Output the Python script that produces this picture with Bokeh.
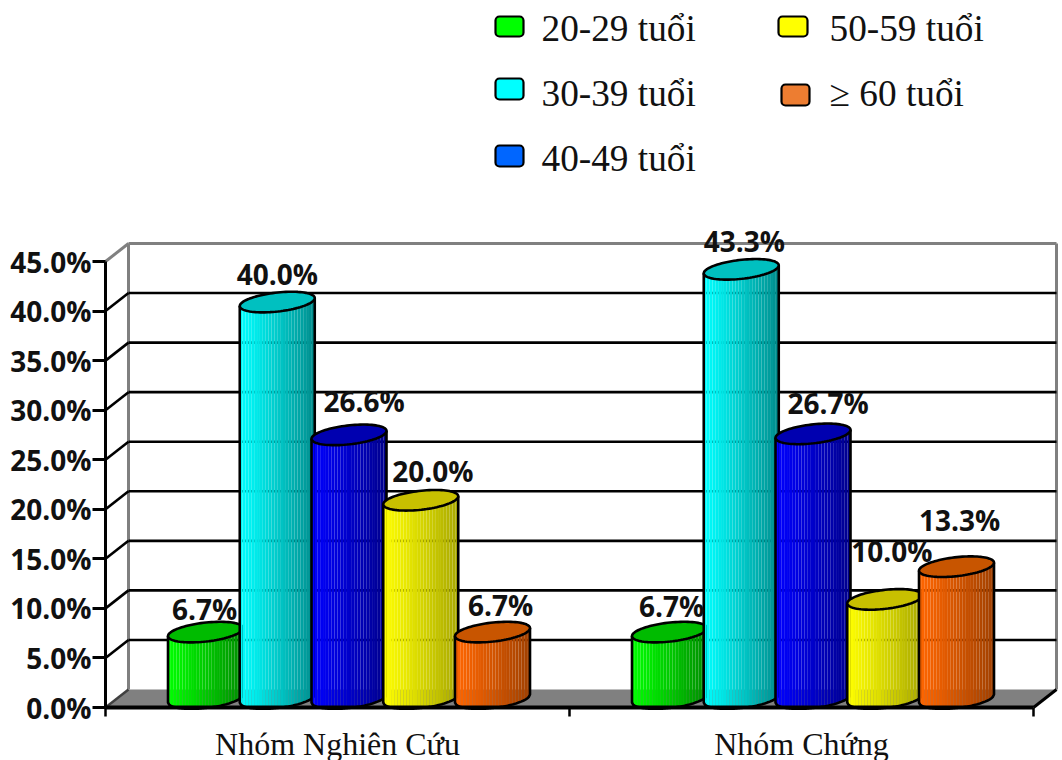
import numpy as np
from bokeh.core.properties import value
from bokeh.embed import file_html
from bokeh.models import FixedTicker, LinearAxis, Range1d
from bokeh.plotting import figure
from bokeh.resources import INLINE

# Chart data
groups = ["Nhóm Nghiên Cứu", "Nhóm Chứng"]
age_labels = ["20-29 tuổi", "30-39 tuổi", "40-49 tuổi", "50-59 tuổi", "≥ 60 tuổi"]
study_group = [6.7, 40.0, 26.6, 20.0, 6.7]
control_group = [6.7, 43.3, 26.7, 10.0, 13.3]
percent_ticks = [0, 5, 10, 15, 20, 25, 30, 35, 40, 45]
percent_labels = ["0.0%", "5.0%", "10.0%", "15.0%", "20.0%", "25.0%", "30.0%", "35.0%", "40.0%", "45.0%"]

# Colours per series: bright side, shaded side, cylinder cap, legend swatch
bright = ["#00FF00", "#00FFFF", "#0000FF", "#FFFF00", "#FF6600"]
shaded = ["#008C00", "#008C8C", "#00008C", "#A8A800", "#A04000"]
caps = ["#00BB00", "#00C0C0", "#0000B0", "#C8C000", "#C85500"]
swatches = ["#00FF00", "#00FFFF", "#0066FF", "#FFFF00", "#ED7D31"]

# Page geometry: scale of the axes in pixels
W, H = 1062, 760
X0, Y0 = 105, 707
PX_PER_GROUP = 464.0
PX_PER_PCT = (707 - 261) / 45.0
DEPTH_X, DEPTH_Y = 23, 18

def dx(px):
    return px / PX_PER_GROUP

def dy(px):
    return px / PX_PER_PCT

def page_x(px):
    return (px - X0) / PX_PER_GROUP

def page_y(px):
    return (Y0 - px) / PX_PER_PCT

p = figure(
    width=W, height=H, output_backend="svg", toolbar_location=None,
    x_range=Range1d(page_x(0), page_x(W)), y_range=Range1d(page_y(H), page_y(0)),
    x_axis_location=None, y_axis_location=None,
    min_border=0, outline_line_color=None, background_fill_color="white",
)
p.grid.visible = False

# Floor of the 3D box
p.patch(
    [0, dx(DEPTH_X), 2 + dx(DEPTH_X - 0), 2],
    [0, dy(DEPTH_Y), dy(DEPTH_Y), 0],
    fill_color="#808080", line_color=None,
)

# Back and side walls
top = percent_ticks[-1] + dy(DEPTH_Y)
WALL = "#808080"
p.line([dx(DEPTH_X)] * 2, [dy(DEPTH_Y), top], line_color=WALL, line_width=3)
p.line([dx(DEPTH_X), 2 + dx(DEPTH_X)], [top, top], line_color=WALL, line_width=3)
p.line([2 + dx(DEPTH_X)] * 2, [dy(DEPTH_Y), top], line_color=WALL, line_width=3)
p.line([0, dx(DEPTH_X)], [percent_ticks[-1], top], line_color=WALL, line_width=3)
p.line([2, 2 + dx(DEPTH_X)], [0, dy(DEPTH_Y)], line_color="black", line_width=3)
p.line([0, dx(DEPTH_X)], [0, dy(DEPTH_Y)], line_color="#404040", line_width=2.5)

# Gridlines run along the back wall and step forward to the axis
inner = percent_ticks[1:-1]
for v in inner:
    p.line([dx(DEPTH_X), 2 + dx(DEPTH_X)], [v + dy(DEPTH_Y)] * 2, line_color="black", line_width=2.6)
    p.line([0, dx(DEPTH_X)], [v, v + dy(DEPTH_Y)], line_color="black", line_width=2.6)

# Cylinders
HALF_W = 37.5
CAP_B = 9.5
CAP_TILT = 4.0
STEP = 71.75
STRIPS = 26

def hex_rgb(c):
    return np.array([int(c[i:i + 2], 16) for i in (1, 3, 5)], dtype=float)

def front_curve(fracs):
    """Pixel offset of the near edge of a cap at fractions of its width."""
    u = 2 * fracs - 1
    return CAP_B * np.sqrt(np.clip(1 - u ** 2, 0, 1)) - CAP_TILT * u

def cylinder(cx, val, i):
    left = cx - dx(HALF_W)
    width = dx(2 * HALF_W)
    base = dy(DEPTH_Y / 2)
    top_y = val + base
    a, b = hex_rgb(bright[i]), hex_rgb(shaded[i])
    edges = np.linspace(0, 1, STRIPS + 1)
    for k in range(STRIPS):
        f = np.linspace(edges[k], edges[k + 1], 4)
        xs = left + f * width
        upper = top_y - dy(front_curve(f))
        lower = base - dy(front_curve(f))
        mix = a + (b - a) * ((k + 0.5) / STRIPS) ** 1.1
        colour = "#%02x%02x%02x" % tuple(int(round(c)) for c in mix)
        p.patch(list(xs) + list(xs[::-1]), list(upper) + list(lower[::-1]), fill_color=colour, line_color=None)

    f = np.linspace(0, 1, 60)
    xs = left + f * width
    lower = base - dy(front_curve(f))
    p.line(
        [xs[0]] + list(xs) + [xs[-1]],
        [top_y - dy(CAP_TILT)] + list(lower) + [top_y + dy(CAP_TILT)],
        line_color="black", line_width=2.6,
    )
    t = np.linspace(0, 2 * np.pi, 90)
    p.patch(
        cx + dx(HALF_W) * np.cos(t),
        top_y - dy(CAP_B * np.sin(t) - CAP_TILT * np.cos(t)),
        fill_color=caps[i], line_color="black", line_width=2.6,
    )

# Horizontal and vertical shift of each value label from its cylinder's cap
label_shift = [
    [(-1, -23), (0, -28), (15, -34), (12, -29), (8, -27)],
    [(2, -26), (3, -28), (15, -31), (7, -48), (3, -47)],
]

label_x, label_y, label_text, label_dx, label_dy = [], [], [], [], []
for g, series in enumerate([study_group, control_group]):
    for i, val in enumerate(series):
        cx = g + 0.5 + dx(DEPTH_X / 2) + dx(STEP) * (i - 2)
        cylinder(cx, val, i)
        label_x.append(cx)
        label_y.append(val + dy(DEPTH_Y / 2))
        label_text.append(f"{val:.1f}%")
        label_dx.append(label_shift[g][i][0])
        label_dy.append(label_shift[g][i][1])

p.text(
    x=label_x, y=label_y, text=label_text, x_offset=label_dx, y_offset=label_dy,
    text_font=value("Open Sans"), text_font_style="bold", text_font_size="28px",
    text_align="center", text_baseline="middle", text_color="#111111",
)

# Axes sit on the front edge of the box
y_axis = LinearAxis(
    fixed_location=0, bounds=(0, 45), ticker=FixedTicker(ticks=percent_ticks),
    major_label_overrides={t: s for t, s in zip(percent_ticks, percent_labels)},
    axis_line_color="black", axis_line_width=3,
    major_tick_line_color="black", major_tick_line_width=3,
    major_tick_in=0, major_tick_out=13, minor_tick_line_color=None,
    major_label_standoff=1, major_label_text_font="Open Sans",
    major_label_text_font_style="bold", major_label_text_font_size="28px",
    major_label_text_color="#111111",
)
p.add_layout(y_axis, "left")

x_axis = LinearAxis(
    fixed_location=0, bounds=(0, 2), ticker=FixedTicker(ticks=[0, 1, 2]),
    major_label_overrides={0: "", 1: "", 2: ""},
    axis_line_color="black", axis_line_width=4,
    major_tick_line_color="black", major_tick_line_width=2.5,
    major_tick_in=0, major_tick_out=9, minor_tick_line_color=None,
)
p.add_layout(x_axis, "below")

group_axis = LinearAxis(
    fixed_location=0, ticker=FixedTicker(ticks=[0.5, 1.5]),
    major_label_overrides={0.5: groups[0], 1.5: groups[1]},
    axis_line_color=None, major_tick_line_color=None, minor_tick_line_color=None,
    major_label_standoff=12, major_label_text_font="Liberation Serif",
    major_label_text_font_size="32px", major_label_text_color="#111111",
)
p.add_layout(group_axis, "below")

# Legend: swatch left, top, right, bottom and label start, in page pixels
legend_slots = [
    (495, 16, 523, 36, 541, 28),
    (495, 78, 523, 99, 541, 93),
    (495, 145, 523, 166, 541, 158),
    (778, 16, 807, 36, 829, 28),
    (781, 84, 809, 105, 829, 93),
]
for (l, t, r, b, tx, ty), colour, label in zip(legend_slots, swatches, age_labels):
    p.quad(
        left=page_x(l), right=page_x(r), top=page_y(t), bottom=page_y(b),
        fill_color=colour, line_color="black", line_width=2.2, border_radius=4,
    )
    p.text(
        x=[page_x(tx)], y=[page_y(ty)], text=[label],
        text_font=value("Liberation Serif"), text_font_size="37.3px",
        text_align="left", text_baseline="alphabetic", text_color="#111111",
    )

open("out.html", "w").write(file_html(p, INLINE))
